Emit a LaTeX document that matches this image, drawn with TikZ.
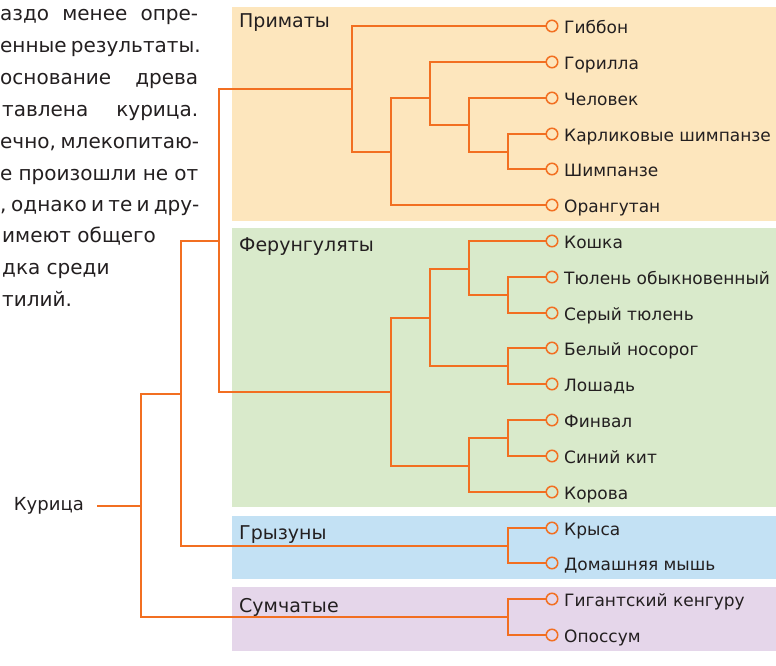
\documentclass[tikz,border=0pt]{standalone}
\usepackage{fontspec}
\setmainfont{DejaVu Sans}
\definecolor{branchc}{HTML}{F26F21}
\definecolor{inkc}{HTML}{231F20}
\definecolor{primc}{HTML}{FDE6BD}
\definecolor{ferc}{HTML}{D9EACB}
\definecolor{rodc}{HTML}{C3E1F4}
\definecolor{marc}{HTML}{E5D6EA}
\tikzset{
  grouplbl/.style={anchor=base west, inner sep=0, text=inkc, font=\fontsize{19}{22}\selectfont},
  leaftext/.style={anchor=base west, inner sep=0, text=inkc, font=\fontsize{17}{20}\selectfont},
  leafdot/.style={circle, draw=branchc, line width=1.5pt, minimum size=11.5pt, inner sep=0},
  branch/.style={draw=branchc, line width=1.8pt},
  para/.style={anchor=base west, inner sep=0, text=inkc, font=\fontsize{20}{23}\selectfont},
}
\begin{document}
\begin{tikzpicture}[x=1pt,y=-1pt]
\useasboundingbox (0,0) rectangle (776,666);
% panels
\fill[primc] (232,7) rectangle (776,221);
\fill[ferc] (232,228) rectangle (776,507);
\fill[rodc] (232,516) rectangle (776,579);
\fill[marc] (232,587) rectangle (776,651);
% group labels
\node[grouplbl] (gpri) at (239,27.5) {Приматы};
\node[grouplbl] (gfer) at (239,251) {Ферунгуляты};
\node[grouplbl] (grod) at (239,539) {Грызуны};
\node[grouplbl] (gmar) at (239,612) {Сумчатые};
% paragraph
\node[para] (p1) at (0,21) {\makebox[198pt][s]{аздо менее опре-}};
\node[para] (p2) at (0,52.8) {\makebox[198pt][s]{енные результаты.}};
\node[para] (p3) at (0,84.6) {\makebox[198pt][s]{основание древа}};
\node[para] (p4) at (2,116.4) {\makebox[196pt][s]{тавлена курица.}};
\node[para] (p5) at (0,148.2) {\makebox[198pt][s]{ечно, млекопитаю-}};
\node[para] (p6) at (0,180) {\makebox[198pt][s]{е произошли не от}};
\node[para] (p7) at (0,211.8) {\makebox[198pt][s]{, однако и те и дру-}};
\node[para] (p8) at (2,242) {имеют общего};
\node[para] (p9) at (2,274) {дка среди};
\node[para] (p10) at (2,306.5) {тилий.};
% leaves
\foreach \i/\yy/\t in {1/26/Гиббон,2/62/Горилла,3/98/Человек,4/134/Карликовые шимпанзе,5/169/Шимпанзе,6/205/Орангутан,
  7/241/Кошка,8/277/Тюлень обыкновенный,9/313/Серый тюлень,10/348/Белый носорог,11/384/Лошадь,12/420/Финвал,13/456/Синий кит,14/492/Корова,
  15/528/Крыса,16/563/Домашняя мышь,17/599/Гигантский кенгуру,18/635/Опоссум}{
  \node[leafdot] (l\i) at (552,\yy) {};
  \node[leaftext] (t\i) at (564,{\yy+7.5}) {\t};
}
% root label
\node[anchor=base east, inner sep=0, text=inkc, font=\fontsize{18}{21}\selectfont] (kur) at (84,510) {Курица};
% internal nodes
\coordinate (pBC) at (508,152);
\coordinate (pHBC) at (469,125);
\coordinate (pGo) at (430,98);
\coordinate (pO) at (391,152);
\coordinate (pri) at (352,89);
\coordinate (fTS) at (508,295);
\coordinate (fK) at (469,269);
\coordinate (fBL) at (508,366);
\coordinate (fKB) at (430,318);
\coordinate (fFS) at (508,438);
\coordinate (fFK) at (469,466);
\coordinate (fer) at (391,392);
\coordinate (n1) at (219,241);
\coordinate (rod) at (508,546);
\coordinate (n2) at (181,394);
\coordinate (mar) at (508,617);
\coordinate (root) at (141,506);
% branches
\draw[branch] (pBC) |- (l4);
\draw[branch] (pBC) |- (l5);
\draw[branch] (pHBC) |- (l3);
\draw[branch] (pHBC) |- (pBC);
\draw[branch] (pGo) |- (l2);
\draw[branch] (pGo) |- (pHBC);
\draw[branch] (pO) |- (pGo);
\draw[branch] (pO) |- (l6);
\draw[branch] (pri) |- (l1);
\draw[branch] (pri) |- (pO);
\draw[branch] (fTS) |- (l8);
\draw[branch] (fTS) |- (l9);
\draw[branch] (fK) |- (l7);
\draw[branch] (fK) |- (fTS);
\draw[branch] (fBL) |- (l10);
\draw[branch] (fBL) |- (l11);
\draw[branch] (fKB) |- (fK);
\draw[branch] (fKB) |- (fBL);
\draw[branch] (fFS) |- (l12);
\draw[branch] (fFS) |- (l13);
\draw[branch] (fFK) |- (fFS);
\draw[branch] (fFK) |- (l14);
\draw[branch] (fer) |- (fKB);
\draw[branch] (fer) |- (fFK);
\draw[branch] (n1) |- (pri);
\draw[branch] (n1) |- (fer);
\draw[branch] (rod) |- (l15);
\draw[branch] (rod) |- (l16);
\draw[branch] (n2) |- (n1);
\draw[branch] (n2) |- (rod);
\draw[branch] (mar) |- (l17);
\draw[branch] (mar) |- (l18);
\draw[branch] (root) |- (n2);
\draw[branch] (root) |- (mar);
\draw[branch, shorten <=13pt] (kur.east |- root) -- (root);
\end{tikzpicture}
\end{document}
